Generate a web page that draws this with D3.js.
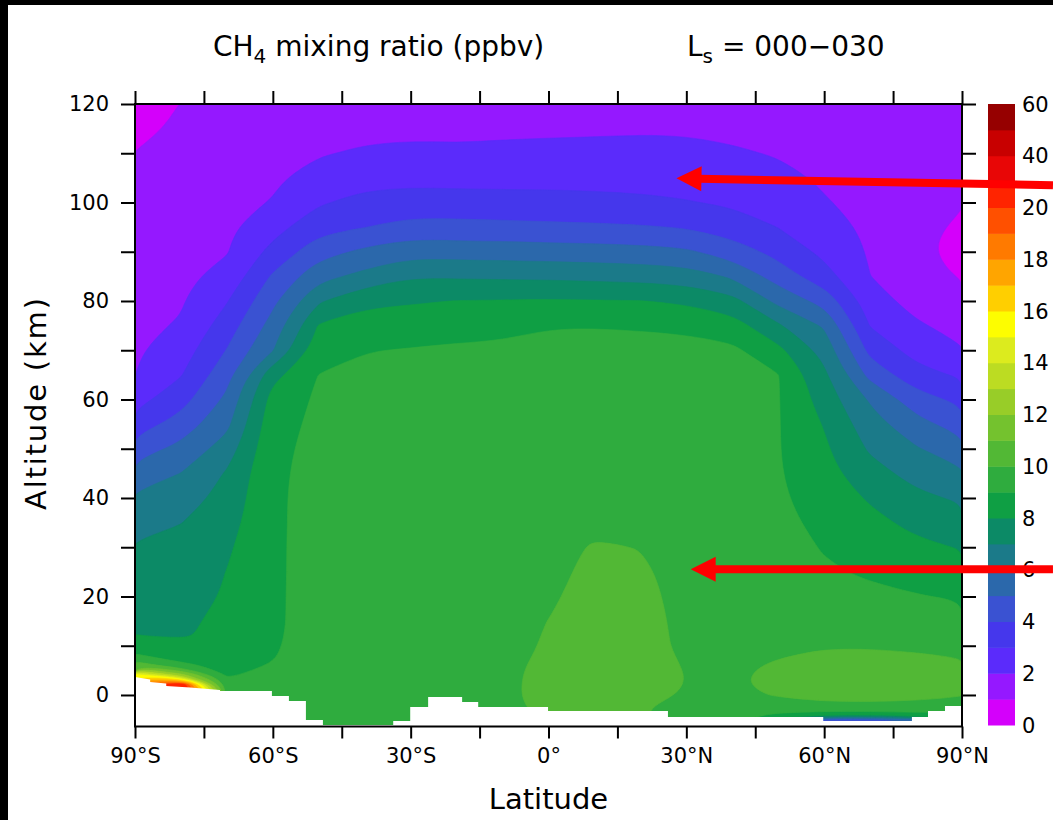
<!DOCTYPE html>
<html>
<head>
<meta charset="utf-8">
<title>CH4 mixing ratio</title>
<script src="https://cdn.jsdelivr.net/npm/d3@7/dist/d3.min.js"></script>
<style>
  body { margin: 0; background: #fff; }
  svg { display: block; }
  text { font-family: "DejaVu Sans", sans-serif; fill: #000; white-space: pre; }
</style>
</head>
<body>
<div id="chart"></div>
<script>
// Grid of the field: latitude columns (deg) and altitude rows (km)
var lats = [-90, -80, -70, -60, -50, -40, -30, -20, -10, 0, 10, 20, 30, 40, 50, 60, 70, 80, 90]
var alts = [-6.4, -5, -4, -3, -2, 0, 2, 4, 6, 8, 10, 12, 15, 20, 25, 30, 35, 40, 45, 50, 55, 60,
            65, 70, 75, 80, 85, 90, 95, 100, 105, 110, 115, 120]

// CH4 mixing ratio (ppbv), one profile per latitude, listed bottom -> top like alts
var p90S = [19, 19, 19, 19, 19, 19, 19, 15.5, 10.7, 9.1, 8.6, 8.02, 7.85, 7.6, 7.35, 7.1, 6.69, 6.17, 5.44, 4.51, 3.47, 2.63, 1.99, 1.88, 1.78, 1.67, 1.56, 1.45, 1.34, 1.24, 1.13, 1.02, 0.82, 0.6]
var p80S = [22, 22, 22, 22, 22, 22, 22, 12.5, 9.2, 8.6, 8.3, 7.92, 7.88, 7.65, 7.43, 7.21, 6.98, 6.5, 6.01, 5.27, 4.42, 3.61, 2.94, 2.51, 2.08, 1.91, 1.79, 1.68, 1.57, 1.45, 1.34, 1.23, 1.11, 1.02]
var p70S = [9.6, 9.6, 9.6, 9.6, 9.6, 9.6, 9.3, 8.95, 8.75, 8.5, 8.3, 8.2, 8.15, 8.08, 8.02, 7.85, 7.6, 7.35, 7.1, 6.45, 5.74, 5.21, 4.64, 4.04, 3.49, 2.94, 2.31, 1.94, 1.83, 1.71, 1.6, 1.48, 1.37, 1.25]
var p60S = [9.3, 9.3, 9.3, 9.3, 9.3, 9.3, 9.25, 9.15, 9.05, 8.96, 8.92, 8.9, 8.88, 8.88, 8.87, 8.87, 8.87, 8.87, 8.85, 8.8, 8.65, 8.4, 7.67, 5.94, 5.37, 4.77, 4.13, 3.3, 2.62, 2.05, 1.85, 1.68, 1.52, 1.35]
var p50S = [9.45, 9.45, 9.45, 9.45, 9.45, 9.45, 9.45, 9.42, 9.4, 9.38, 9.35, 9.32, 9.3, 9.3, 9.3, 9.3, 9.28, 9.27, 9.25, 9.22, 9.2, 9.15, 9.02, 8.55, 8.09, 6.88, 5.67, 4.6, 3.67, 2.89, 2.37, 1.93, 1.69, 1.45]
var p40S = [9.5, 9.5, 9.5, 9.5, 9.5, 9.5, 9.5, 9.5, 9.5, 9.5, 9.5, 9.5, 9.5, 9.49, 9.48, 9.47, 9.46, 9.45, 9.44, 9.42, 9.4, 9.35, 9.25, 8.96, 8.44, 7.78, 6.29, 5.2, 3.98, 3.29, 2.67, 2.11, 1.78, 1.5]
var p30S = [9.5, 9.55, 9.6, 9.6, 9.6, 9.6, 9.6, 9.6, 9.6, 9.6, 9.59, 9.58, 9.58, 9.57, 9.56, 9.55, 9.54, 9.52, 9.5, 9.48, 9.45, 9.4, 9.3, 9.05, 8.51, 7.9, 6.93, 5.65, 4.35, 3.41, 2.73, 2.18, 1.82, 1.55]
var p20S = [9.6, 9.65, 9.68, 9.7, 9.72, 9.75, 9.75, 9.74, 9.72, 9.7, 9.68, 9.67, 9.66, 9.65, 9.64, 9.62, 9.6, 9.57, 9.55, 9.52, 9.5, 9.45, 9.35, 9.15, 8.62, 8.02, 6.88, 5.55, 4.31, 3.38, 2.7, 2.14, 1.81, 1.55]
var p10S = [9.6, 9.7, 9.75, 9.78, 9.8, 9.82, 9.82, 9.82, 9.8, 9.78, 9.76, 9.75, 9.74, 9.72, 9.7, 9.68, 9.66, 9.64, 9.62, 9.6, 9.55, 9.5, 9.4, 9.2, 8.7, 8.05, 6.84, 5.54, 4.26, 3.33, 2.7, 2.2, 1.83, 1.55]
var p0 = [9.9, 9.98, 10.1, 10.15, 10.2, 10.25, 10.25, 10.22, 10.18, 10.12, 10.08, 10.05, 10.01, 9.88, 9.78, 9.7, 9.7, 9.7, 9.65, 9.65, 9.6, 9.55, 9.45, 9.3, 8.95, 8.09, 6.81, 5.46, 4.2, 3.31, 2.71, 2.24, 1.85, 1.55]
var p10N = [10.1, 10.2, 10.25, 10.3, 10.35, 10.4, 10.42, 10.42, 10.42, 10.42, 10.4, 10.4, 10.38, 10.3, 10.2, 10.08, 9.8, 9.72, 9.7, 9.68, 9.62, 9.55, 9.45, 9.3, 8.96, 8.05, 6.73, 5.41, 4.15, 3.25, 2.7, 2.26, 1.87, 1.55]
var p20N = [10.0, 10.05, 10.1, 10.15, 10.2, 10.35, 10.38, 10.38, 10.38, 10.37, 10.35, 10.33, 10.3, 10.2, 10.1, 9.98, 9.78, 9.72, 9.7, 9.68, 9.62, 9.55, 9.45, 9.3, 8.91, 8.02, 6.65, 5.33, 4.08, 3.18, 2.68, 2.29, 1.9, 1.55]
var p30N = [9.3, 9.4, 9.5, 9.55, 9.6, 9.88, 9.97, 9.98, 9.94, 9.88, 9.82, 9.8, 9.78, 9.77, 9.76, 9.74, 9.72, 9.7, 9.68, 9.65, 9.6, 9.55, 9.45, 9.3, 8.81, 7.84, 6.49, 5.15, 3.93, 3.05, 2.64, 2.25, 1.89, 1.55]
var p40N = [9.4, 9.5, 9.6, 9.7, 9.75, 9.85, 9.9, 9.9, 9.85, 9.8, 9.75, 9.72, 9.7, 9.68, 9.65, 9.62, 9.6, 9.6, 9.6, 9.58, 9.55, 9.5, 9.4, 9.2, 8.46, 7.33, 5.86, 4.5, 3.52, 2.86, 2.49, 2.11, 1.79, 1.5]
var p50N = [7.0, 7.5, 8.8, 9.4, 9.75, 10.05, 10.15, 10.15, 10.08, 9.95, 9.85, 9.8, 9.7, 9.55, 9.45, 9.35, 9.25, 9.15, 9.08, 9.05, 9.05, 9.05, 9.03, 8.25, 7.13, 5.7, 4.55, 3.68, 2.98, 2.63, 2.26, 1.93, 1.69, 1.45]
var p60N = [3.0, 4.6, 8.2, 9.4, 9.9, 10.2, 10.3, 10.3, 10.25, 10.1, 9.95, 9.8, 9.6, 9.2, 9.1, 8.94, 8.75, 8.55, 8.35, 8.16, 7.93, 7.56, 7.19, 6.64, 5.88, 4.63, 3.38, 2.76, 2.41, 2.07, 1.87, 1.72, 1.56, 1.4]
var p70N = [3.0, 4.6, 8.2, 9.4, 9.9, 10.2, 10.3, 10.3, 10.25, 10.1, 9.95, 9.8, 9.55, 9.15, 8.9, 8.58, 8.26, 7.89, 7.37, 6.86, 6.41, 5.88, 4.67, 3.69, 2.95, 2.48, 2.01, 1.9, 1.8, 1.7, 1.6, 1.5, 1.4, 1.3]
var p80N = [4.5, 5.6, 8.7, 9.4, 9.85, 10.2, 10.3, 10.3, 10.2, 10.05, 9.88, 9.75, 9.5, 9.05, 8.64, 8.21, 7.74, 7.21, 6.66, 6.08, 5.32, 4.45, 3.34, 2.64, 2.15, 1.6, 1.25, 1.15, 1.17, 1.22, 1.25, 1.28, 1.3, 1.3]
var p90N = [8.0, 8.3, 8.7, 9.2, 9.7, 10.05, 10.2, 10.2, 10.1, 9.95, 9.85, 9.7, 9.4, 8.9, 8.42, 7.94, 7.42, 6.86, 6.18, 5.39, 4.57, 3.73, 2.85, 2.1, 1.6, 1.3, 0.95, 0.75, 0.9, 1.05, 1.15, 1.25, 1.3, 1.3]
var profiles = [p90S, p80S, p70S, p60S, p50S, p40S, p30S, p20S, p10S, p0,
                p10N, p20N, p30N, p40N, p50N, p60N, p70N, p80N, p90N]

// Contour levels (ppbv) and the fill of each band [level, next level)
var levels = [0, 1, 2, 3, 4, 5, 6, 7, 8, 9, 10, 11, 12, 13, 14, 15, 16, 17, 18, 19, 20, 30, 40, 50, 60]
var colors = ['#d400fb', '#9518ff', '#5b2bfb', '#4537ec', '#3a52d2', '#2b68ab', '#1b7a89', '#0c8a66',
              '#0f9f44', '#2fac3e', '#52b835', '#74c22e', '#98cd28', '#bcdc22', '#dceb1e', '#fdfd00',
              '#ffcf00', '#ffa500', '#ff7a00', '#ff5000', '#ff2400', '#e80606', '#c80000', '#960000']
var cbarLabels = [0, 2, 4, 6, 8, 10, 12, 14, 16, 18, 20, 40, 60]

// Surface (no data below it), outline from south to north
var surfLat = [-90, -86.7, -86.7, -83.2, -83.2, -78, -71.5, -71.5, -60.2, -60.2, -56.5, -56.5, -52.8, -52.8,
               -49.1, -49.1, -33.8, -33.8, -30.1, -30.1, -26.2, -26.2, -18.8, -18.8, -15.3, -15.3, -0.1, -0.1,
               26, 26, 59.8, 59.8, 79.1, 79.1, 82.6, 82.6, 86.3, 86.3, 90]
var surfAlt = [3.65, 3.15, 2.64, 2.34, 1.83, 1.52, 1.02, 0.81, 0.81, -0.2, -0.2, -1.22, -1.22, -5.08,
               -5.08, -6.09, -6.09, -5.3, -5.3, -2.44, -2.44, -0.41, -0.41, -1.42, -1.42, -2.44, -2.44, -3.25,
               -3.25, -4.47, -4.47, -5.28, -5.28, -4.47, -4.47, -3.25, -3.25, -2.23, -2.23]

// Ticks
var latTicks = d3.range(-90, 91, 15)
var altTicks = d3.range(0, 121, 10)

// Red annotation arrows (tail outside the frame, tip inside), lat/alt
var arrowTails = [[109.8, 103.5], [109.8, 25.55]]
var arrowTips = [[27.85, 104.9], [30.95, 25.55]]

var W = 1053, H = 820
var svg = d3.select('#chart').append('svg').attr('width', W).attr('height', H)

var x = d3.scaleLinear().domain([-90, 90]).range([135, 962])
var y = d3.scaleLinear().domain([-6.4, 120]).range([726.5, 104])

// black edge of the original screenshot
svg.append('rect').attr('x', 0).attr('y', 0).attr('width', 8).attr('height', H).attr('fill', '#000')
svg.append('rect').attr('x', 0).attr('y', 0).attr('width', W).attr('height', 5).attr('fill', '#000')

svg.append('clipPath').attr('id', 'plotclip')
  .append('rect')
  .attr('x', x(-90)).attr('y', y(120))
  .attr('width', x(90) - x(-90)).attr('height', y(-6.4) - y(120))

// Filled contours
var nx = lats.length, ny = alts.length
var values = []
alts.forEach(function (a, j) {
  profiles.forEach(function (p) { values.push(p[j]) })
})
var contours = d3.contours().size([nx, ny]).thresholds(levels)(values)

// contour grid coords -> lat/alt (sample k sits at k + 0.5)
var latOfIdx = d3.scaleLinear().domain(d3.range(nx)).range(lats).clamp(true)
var altOfIdx = d3.scaleLinear().domain(d3.range(ny)).range(alts).clamp(true)
function toPixel(p) {
  return [x(latOfIdx(p[0] - 0.5)), y(altOfIdx(p[1] - 0.5))]
}

// smoothed rings; points on the grid border are repeated so the
// spline runs straight along the frame and keeps its corners
var ringLine = d3.line().curve(d3.curveBasisClosed)
function ringPoints(ring) {
  var out = []
  ring.slice(0, -1).forEach(function (p) {
    var q = toPixel(p)
    out.push(q)
    if (p[0] <= 0 || p[0] >= nx || p[1] <= 0 || p[1] >= ny) {
      out.push(q)
      out.push(q)
    }
  })
  return out
}
function contourPath(c) {
  var d = ''
  c.coordinates.forEach(function (poly) {
    poly.forEach(function (ring) {
      var pts = ringPoints(ring)
      if (pts.length > 2) d += ringLine(pts)
    })
  })
  return d
}

var plot = svg.append('g').attr('clip-path', 'url(#plotclip)')
plot.selectAll('path.band')
  .data(contours.filter(function (c, i) { return i < colors.length }))
  .enter()
  .append('path')
  .attr('class', 'band')
  .attr('d', contourPath)
  .attr('fill', function (c, i) { return colors[i] })
  .attr('stroke', function (c, i) { return colors[i] })
  .attr('stroke-width', 0.6)

// surface mask
var surfPts = [[x(-90) - 2, y(-6.4) + 2], [x(-90) - 2, y(surfAlt[0])]]
  .concat(surfLat.map(function (d, i) { return [x(d), y(surfAlt[i])] }))
  .concat([[x(90) + 2, y(surfAlt[surfAlt.length - 1])], [x(90) + 2, y(-6.4) + 2]])
plot.append('path')
  .attr('d', d3.line()(surfPts) + 'Z')
  .attr('fill', '#fff')

// frame
svg.append('rect')
  .attr('x', x(-90)).attr('y', y(120))
  .attr('width', x(90) - x(-90)).attr('height', y(-6.4) - y(120))
  .attr('fill', 'none').attr('stroke', '#000').attr('stroke-width', 2)

// axes
function latFormat(d) {
  if (d % 30) return ''
  if (d === 0) return '0°'
  return Math.abs(d) + '°' + (d < 0 ? 'S' : 'N')
}
function styleAxis(g) {
  g.select('.domain').remove()
  g.selectAll('.tick line').attr('stroke', '#000').attr('stroke-width', 2)
  g.selectAll('.tick text').style('font-size', '21px').style('font-family', '"DejaVu Sans", sans-serif').attr('fill', '#000')
}

svg.append('g').attr('transform', 'translate(0,' + y(-6.4) + ')')
  .call(d3.axisBottom(x).tickValues(latTicks).tickSize(12).tickPadding(10).tickFormat(latFormat))
  .call(styleAxis)
svg.append('g').attr('transform', 'translate(0,' + y(120) + ')')
  .call(d3.axisTop(x).tickValues(latTicks).tickSize(13).tickFormat(''))
  .call(styleAxis)
svg.append('g').attr('transform', 'translate(' + x(-90) + ',0)')
  .call(d3.axisLeft(y).tickValues(altTicks).tickSize(14).tickPadding(12)
    .tickFormat(function (d) { return d % 20 ? '' : d }))
  .call(styleAxis)
svg.append('g').attr('transform', 'translate(' + x(90) + ',0)')
  .call(d3.axisRight(y).tickValues(altTicks).tickSize(14).tickFormat(''))
  .call(styleAxis)

// axis titles
svg.append('text')
  .attr('x', x(0)).attr('y', 809)
  .attr('text-anchor', 'middle')
  .style('font-size', '29px')
  .text('Latitude')
svg.append('text')
  .attr('transform', 'translate(46,404) rotate(-90)')
  .attr('text-anchor', 'middle')
  .attr('textLength', 212)
  .attr('lengthAdjust', 'spacing')
  .style('font-size', '29px')
  .text('Altitude (km)')

// title
var t1 = svg.append('text').attr('x', 213).attr('y', 56).style('font-size', '28px')
t1.append('tspan').text('CH')
t1.append('tspan').attr('dy', 7).style('font-size', '20px').text('4')
t1.append('tspan').attr('dy', -7).text(' mixing ratio (ppbv)')

var t2 = svg.append('text').attr('x', 687).attr('y', 56).style('font-size', '28px')
t2.append('tspan').text('L')
t2.append('tspan').attr('dy', 7).style('font-size', '20px').text('s')
t2.append('tspan').attr('dy', -7).text(' = 000\u2212030')

// colour bar
var cb = d3.scaleLinear().domain([0, colors.length]).range([725, 104])
var cbar = svg.append('g')
cbar.selectAll('rect')
  .data(colors)
  .enter()
  .append('rect')
  .attr('x', 988)
  .attr('y', function (c, i) { return cb(i + 1) })
  .attr('width', 27)
  .attr('height', function (c, i) { return cb(i) - cb(i + 1) + 0.5 })
  .attr('fill', function (c) { return c })
cbar.selectAll('text')
  .data(cbarLabels)
  .enter()
  .append('text')
  .attr('x', 1022)
  .attr('y', function (d) { return cb(levels.indexOf(d)) })
  .attr('dy', '0.36em')
  .style('font-size', '21px')
  .text(function (d) { return d })

// red arrows
arrowTips.forEach(function (tip, k) {
  var tail = arrowTails[k]
  var x1 = x(tail[0]), y1 = y(tail[1]), x2 = x(tip[0]), y2 = y(tip[1])
  var ang = Math.atan2(y2 - y1, x2 - x1)
  var hl = 25, hw = 12.5
  var bx = x2 - hl * Math.cos(ang), by = y2 - hl * Math.sin(ang)
  svg.append('line')
    .attr('x1', x1).attr('y1', y1).attr('x2', bx + 2 * Math.cos(ang)).attr('y2', by + 2 * Math.sin(ang))
    .attr('stroke', '#ff0000').attr('stroke-width', 8)
  var px = -Math.sin(ang) * hw, py = Math.cos(ang) * hw
  svg.append('path')
    .attr('d', 'M' + x2 + ',' + y2 + 'L' + (bx + px) + ',' + (by + py) + 'L' + (bx - px) + ',' + (by - py) + 'Z')
    .attr('fill', '#ff0000')
})
</script>
</body>
</html>
